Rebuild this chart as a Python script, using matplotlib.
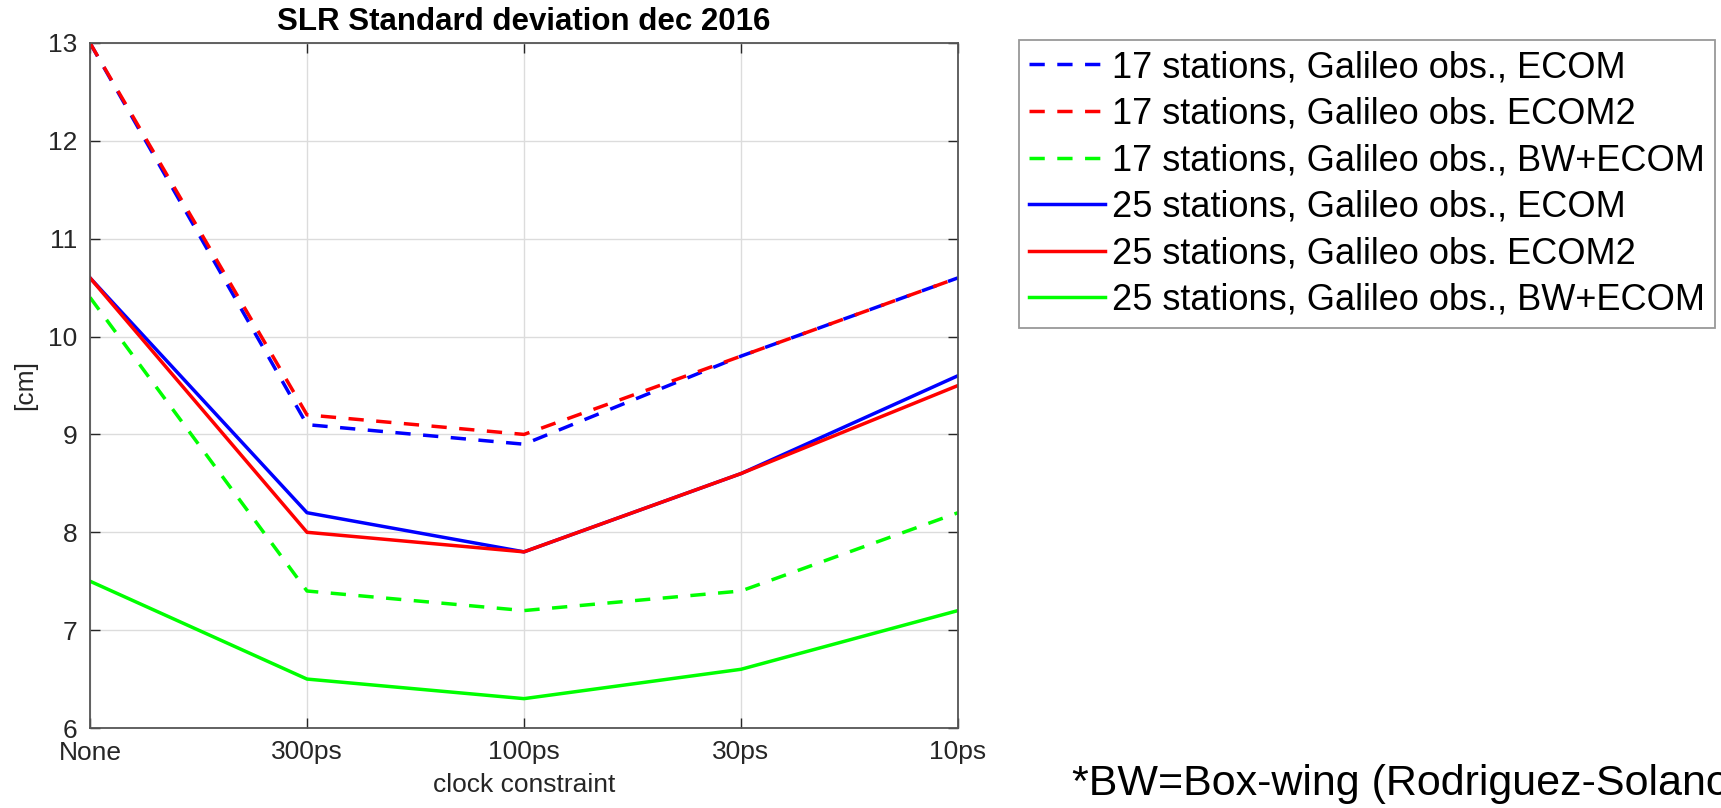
import matplotlib
matplotlib.use("Agg")
import matplotlib.pyplot as plt

plt.rcParams['font.family'] = ['Liberation Sans', 'DejaVu Sans']

restricciones = ["None", "300ps", "100ps", "30ps", "10ps"]

est17_ecom = [13.0, 9.1, 8.9, 9.8, 10.6]
est17_ecom2 = [13.0, 9.2, 9.0, 9.8, 10.6]
est17_bw = [10.4, 7.4, 7.2, 7.4, 8.2]
est25_ecom = [10.6, 8.2, 7.8, 8.6, 9.6]
est25_ecom2 = [10.6, 8.0, 7.8, 8.6, 9.5]
est25_bw = [7.5, 6.5, 6.3, 6.6, 7.2]

series = [
    (est17_ecom, "17 stations, Galileo obs., ECOM", "#0000ff", "--"),
    (est17_ecom2, "17 stations, Galileo obs. ECOM2", "#ff0000", "--"),
    (est17_bw, "17 stations, Galileo obs., BW+ECOM", "#00ff00", "--"),
    (est25_ecom, "25 stations, Galileo obs., ECOM", "#0000ff", "-"),
    (est25_ecom2, "25 stations, Galileo obs. ECOM2", "#ff0000", "-"),
    (est25_bw, "25 stations, Galileo obs., BW+ECOM", "#00ff00", "-"),
]

W, H = 1721, 808
fig = plt.figure(figsize=(W / 100, H / 100), dpi=100)
ax = fig.add_axes([90 / W, (H - 728) / H, (958 - 90) / W, (728 - 43) / H])

x = list(range(len(restricciones)))
for valores, nombre, color, estilo in series:
    ax.plot(x, valores, color=color, linestyle=estilo, linewidth=2.5,
            dashes=(4.4, 3.6) if estilo == "--" else (None, None), label=nombre)

ax.set_xlim(0, len(restricciones) - 1)
ax.set_ylim(6, 13)
ax.set_xticks(x)
ax.set_xticklabels(restricciones)
ax.set_yticks(range(6, 14))
ax.tick_params(direction='in', length=7, width=1, labelsize=19, colors='#262626',
               top=True, right=True, pad=9)
ax.grid(True, color='#dcdcdc', linewidth=1)
for lado in ax.spines.values():
    lado.set_color('#555555')
    lado.set_linewidth(1.3)

ax.set_title("SLR Standard deviation dec 2016", fontsize=22.5, fontweight='bold', pad=9)
ax.set_xlabel("clock constraint", fontsize=19, color='#262626', labelpad=6)
ax.set_ylabel("[cm]", fontsize=19, color='#262626', labelpad=8)

leg = fig.legend(loc='upper left', bbox_to_anchor=(1019 / W, 1 - 40 / H),
                 bbox_transform=fig.transFigure, fontsize=26, frameon=True,
                 fancybox=False, handlelength=2.1, handletextpad=0.2,
                 labelspacing=0.32, borderpad=0.28, borderaxespad=0)
leg.get_frame().set_edgecolor('#7f7f7f')
leg.get_frame().set_linewidth(1.3)

# nota al pie, se corta en el borde derecho
fig.text(1072 / W, 1 - 795 / H, "*BW=Box-wing (Rodriguez-Solano",
         fontsize=31, va='baseline', ha='left')

fig.savefig("out.png", dpi=100, facecolor='white')
